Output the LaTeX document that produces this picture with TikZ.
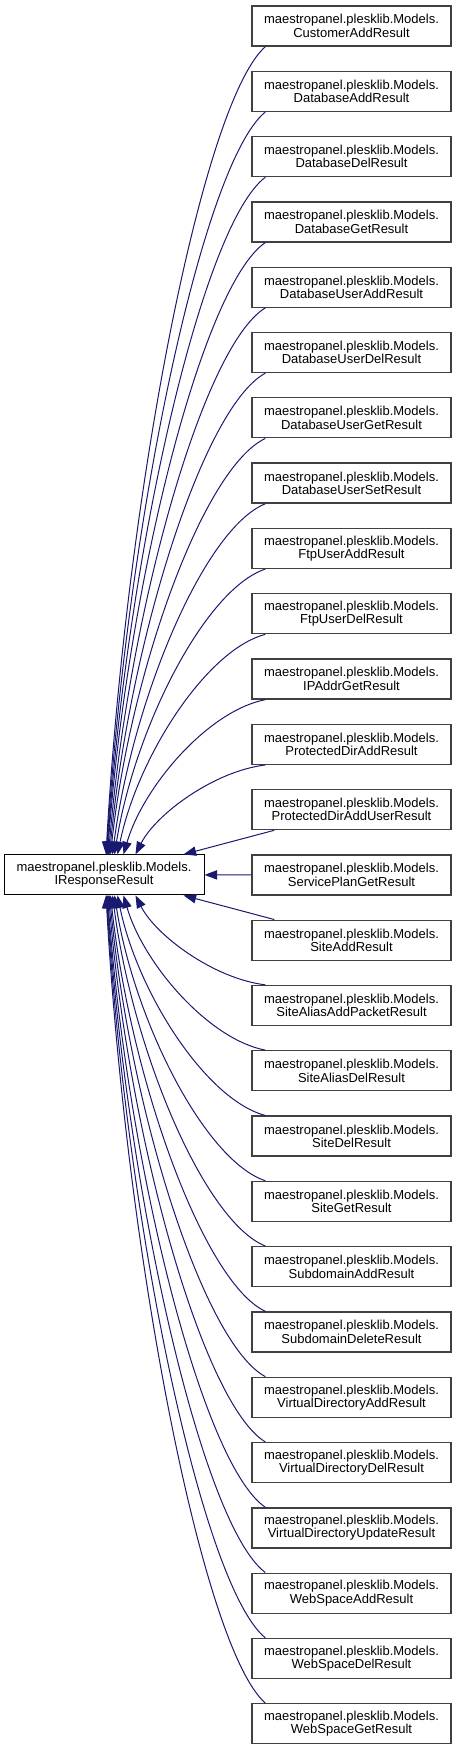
\documentclass[tikz,border=0pt]{standalone}
\usepackage{fontspec}
\setmainfont{Liberation Sans}
\usetikzlibrary{arrows.meta}
\definecolor{edgeblue}{HTML}{191970}
\definecolor{boxgray}{HTML}{404040}

\begin{document}
\begin{tikzpicture}[x=0.75pt, y=-0.75pt,
  arr/.style={-{Triangle[length=9.5pt, width=7pt]}, draw=edgeblue, line width=0.75pt},
  kbox/.style={draw=boxgray, line width=1pt, fill=white, inner sep=0pt,
               minimum width=149.25pt, minimum height=30pt, align=center,
               font=\fontsize{9.75}{10}\selectfont},
  bbox/.style={kbox, draw=black, line width=0.75pt, minimum width=150pt},
]
\useasboundingbox (0,0) rectangle (456,1751);
\node[bbox] (base) at (104,874.9) {maestropanel.plesklib.Models.\\IResponseResult};
\foreach \cls [count=\i from 0] in {CustomerAddResult, DatabaseAddResult, DatabaseDelResult,
    DatabaseGetResult, DatabaseUserAddResult, DatabaseUserDelResult, DatabaseUserGetResult,
    DatabaseUserSetResult, FtpUserAddResult, FtpUserDelResult, IPAddrGetResult,
    ProtectedDirAddResult, ProtectedDirAddUserResult, ServicePlanGetResult, SiteAddResult,
    SiteAliasAddPacketResult, SiteAliasDelResult, SiteDelResult, SiteGetResult,
    SubdomainAddResult, SubdomainDeleteResult, VirtualDirectoryAddResult,
    VirtualDirectoryDelResult, VirtualDirectoryUpdateResult, WebSpaceAddResult,
    WebSpaceDelResult, WebSpaceGetResult}
  \node[kbox] (c\i) at (351.5,{26+65.3*\i}) {maestropanel.plesklib.Models.\\\cls};
\draw[arr] (c13.west) -- (base.east);
\draw[arr] ([shift={(23,0)}]c12.south west) -- ([shift={(180,0)}]base.north west);
\draw[arr] ([shift={(23,0)}]c14.north west) -- ([shift={(180,0)}]base.south west);
\foreach \k/\tx in {2/136, 3/124, 4/118, 5/115, 6/113, 7/111, 8/110,
                    9/109, 10/108, 11/107.5, 12/107, 13/106.5} {
  \pgfmathtruncatemacro\up{13-\k}
  \pgfmathtruncatemacro\down{13+\k}
  \pgfmathsetmacro\dy{65.3*\k-40.4}
  \pgfmathsetmacro\dx{266-\tx}
  \draw[arr] ([shift={(14,0)}]c\up.south west)
    .. controls +({-0.4*\dx},{0.07*\dy}) and +(20,{-0.44*\dy})
    .. ([shift={(\tx-4,0)}]base.north west);
  \draw[arr] ([shift={(14,0)}]c\down.north west)
    .. controls +({-0.4*\dx},{-0.07*\dy}) and +(20,{0.44*\dy})
    .. ([shift={(\tx-4,0)}]base.south west);
}
\end{tikzpicture}
\end{document}
